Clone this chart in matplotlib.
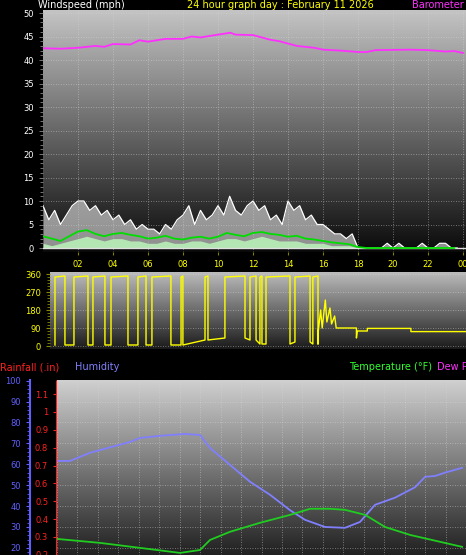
import numpy as np
import matplotlib
matplotlib.use("Agg")
import matplotlib.pyplot as plt
from matplotlib.colors import LinearSegmentedColormap

W, H = 466, 555
# ---------------- data ----------------
gust_t = np.arange(72) / 3.0  # hours (20-min steps)
gust = [9,6,8,5,7,9, 10,10,8,9,7,8, 6,7,5,6,4,5, 4,4,3,5,4,6,
        7,9,5,8,6,7, 9,7,11,8,7,9, 10,8,9,6,7,5, 10,8,9,6,7,5,
        5,4,3,3,2,3, 0,0,0,0,0,1, 0,1,0,0,0,1, 0,0,1,1,0,0]
avg_t = np.arange(48) / 2.0
avg = [2.5,2,1.5,2.5,3.5,3.8,3,2.5, 3,3.2,2.8,2.5,2,2.2,2.6,2,
       1.8,2.2,2.4,2,2.4,3.2,2.8,2.5, 3.2,3.4,3,2.8,2.4,2.6,2,1.8,
       1.5,1.2,1,0.8,0.2,0,0,0, 0,0,0,0,0,0,0,0]
lull = [1,0.5,1,1.5,2,2.5,2,1.5, 2,2,1.5,1.5,1,1,1.5,1,
        1,1.5,1.5,1,1.5,2,2,1.5, 2,2.5,2,1.5,1.5,1.5,1,1,
        1,0.5,0.5,0.5,0,0,0,0, 0,0,0,0,0,0,0,0]
baro_t = [0,1,2,3,3.5,4,5,5.5,6,7,8,8.5,9,10,10.7,11,12,13,13.5,14.5,15.5,16,17,18,18.5,19,21,22,23,23.5,24]
baro = [42.5,42.4,42.6,43,42.8,43.4,43.3,44.2,43.9,44.5,44.5,45,44.8,45.4,45.8,45.4,45.3,44.3,44,43,42.6,42.2,42,41.7,41.7,42.1,42.2,42.1,41.8,41.9,41.5]

dir_high = [(0.13,0.77),(1.35,2.25),(2.57,3.34),(3.73,4.82),(5.46,5.98),(6.36,7.58),
            (8.23,8.35),(9.77,9.96),(11.05,12.34),(12.66,13.05),(13.3,13.43),
            (13.69,15.23),(15.55,16.52),(16.7,17.03)]
dir_low = [5,5,5,5,5,5,5,30,40,30,10,10,20,10,30]
dir_tail_t = [17.03,17.2,17.3,17.5,17.6,17.8,17.9,18.1,18.2,19.5,19.5,19.55,19.55,20.2,20.2,23.0,23.0,26.5]
dir_tail_v = [60,180,90,230,120,190,110,150,90,90,40,75,75,75,88,88,72,72]

hum_t = [0,0.76,1.94,4.29,4.88,6.04,7.51,8.39,8.98,10.15,11.33,12.5,13.68,14.56,15.73,16.9,17.78,18.66,19.83,21.01,21.6,22.19,22.77,23.77]
hum = [61.6,61.6,65.5,70.7,72.6,73.6,74.5,74,67.8,59.7,51.6,45.4,38,33.4,30,29.6,32.4,40.6,44,49,54,54.4,56,58.3]
temp_t = [0,2.52,4.88,7.22,8.39,8.98,10.15,11.91,13.68,14.85,16.02,16.9,18.08,19.25,20.72,22.48,23.77]
temp = [24.3,22.4,20,17.6,19,23.8,27.7,32,35.8,38.7,38.7,38.2,35.8,30,26.2,22.9,20.5]

hour_labels = ["02","04","06","08","10","12","14","16","18","20","22","00"]

# ---------------- figure ----------------
fig = plt.figure(figsize=(W/100, H/100), dpi=100, facecolor="black")

def rect(l, t, r, b):
    return [l/W, 1-b/H, (r-l)/W, (b-t)/H]

def grad(ax, top, bot):
    cm = LinearSegmentedColormap.from_list("g", [bot, top])
    g = np.linspace(0, 1, 256).reshape(-1, 1)
    ax.imshow(g, aspect="auto", extent=[0,1,0,1], transform=ax.transAxes,
              cmap=cm, origin="lower", zorder=0)

def style(ax):
    ax.set_facecolor("black")
    for s in ax.spines.values():
        s.set_visible(False)
    ax.grid(True, color="#d8d8d8", linestyle=(0,(1,2)), linewidth=0.6, alpha=0.6)
    ax.set_axisbelow(False)

fs = 7
# --- top panel ---
ax1 = fig.add_axes(rect(43, 10, 466, 252))
style(ax1)
grad(ax1, "#c4c4c4", "#0a0a0a")
ax1.set_xlim(0, 24.17); ax1.set_ylim(-0.85, 50.64)
ax1.set_yticks(range(0, 51, 5))
ax1.set_yticks(np.arange(0, 50, 1), minor=True)
ax1.tick_params(axis="y", colors="#888888", labelcolor="white", labelsize=6, length=3, width=0.6)
ax1.tick_params(axis="y", which="minor", length=2, color="#888888")
ax1.set_xticks(range(2, 25, 2), hour_labels)
ax1.tick_params(axis="x", colors="#808000", labelcolor="yellow", labelsize=6, length=2)
ax1.fill_between(gust_t, 0, gust, color="#e8e8e8", alpha=0.6, lw=0, zorder=2)
ax1.plot(gust_t, gust, color="white", lw=0.9, zorder=2)
ax1.fill_between(avg_t, 0, lull, color="#b8f0b8", alpha=0.9, lw=0, zorder=3)
ax1.plot(avg_t, avg, color="#00dd00", lw=1.3, zorder=4)
ax1.axhline(0, color="#e0e0e0", lw=1, zorder=3)
ax1.plot(baro_t, baro, color="#ff30ff", lw=1.3, zorder=4)
fig.text(38/W, 1-8/H, "Windspeed (mph)", color="white", fontsize=fs, va="baseline")
fig.text(280/W, 1-8/H, "24 hour graph day : February 11 2026", color="yellow", fontsize=fs, ha="center", va="baseline")
fig.text(464/W, 1-8/H, "Barometer", color="#ff30ff", fontsize=fs, ha="right", va="baseline")

# --- direction panel ---
ax2 = fig.add_axes(rect(50, 272, 466, 349))
style(ax2)
grad(ax2, "#bcbcbc", "#1a1a1a")
ax2.set_xlim(-0.19, 26.54); ax2.set_ylim(-15, 370)
ax2.set_yticks([0, 90, 180, 270, 360])
ax2.set_yticks(np.arange(0, 360, 15), minor=True)
ax2.set_xticks([])
ax2.tick_params(axis="y", colors="#888800", labelcolor="yellow", labelsize=6, length=3)
ax2.tick_params(axis="y", which="minor", length=2, color="#888800")
dt, dv = [], []
for (a, b), lo in zip(dir_high, dir_low):
    dt += [a, a, b, b]; dv += [lo, 345, 350, lo]
dt += dir_tail_t; dv += dir_tail_v
ax2.plot(dt, dv, color="#ffff00", lw=1.0, zorder=3)

# --- legend row ---
ly = 1 - 370/H
fig.text(0/W, ly, "Rainfall (.in)", color="#ff2020", fontsize=fs)
fig.text(75/W, ly, "Humidity", color="#8080ff", fontsize=fs)
fig.text(349/W, ly, "Temperature (°F)", color="#30ff30", fontsize=fs)
fig.text(437/W, ly, "Dew Point", color="#ff30ff", fontsize=fs)

# --- bottom panel ---
ax3 = fig.add_axes(rect(57, 380, 466, 555))
style(ax3)
grad(ax3, "#d0d0d0", "#202020")
ax3.set_xlim(0, 24); ax3.set_ylim(16.6, 100.3)
ax3.set_xticks(np.arange(0, 24, 1.2)); ax3.tick_params(axis="x", length=0, labelbottom=False)
ax3.set_yticks(range(20, 101, 10))
ax3.set_yticks(range(18, 100, 2), minor=True)
ax3.spines["left"].set_visible(True)
ax3.spines["left"].set_position(("axes", -27/409))
ax3.spines["left"].set_color("#6060ff"); ax3.spines["left"].set_linewidth(1.5)
ax3.tick_params(axis="y", colors="#6060ff", labelcolor="#6060ff", labelsize=6, length=3)
ax3.tick_params(axis="y", which="minor", length=2, color="#6060ff")
ax3.plot(hum_t, hum, color="#8080ff", lw=1.3, zorder=4)
ax3.plot(temp_t, temp, color="#20cc20", lw=1.3, zorder=4)
ax3r = ax3.twinx()
ax3r.set_ylim(0.199, 1.179)
for s in ax3r.spines.values():
    s.set_visible(False)
ax3r.spines["left"].set_visible(True)
ax3r.spines["left"].set_position(("axes", -0.003))
ax3r.spines["left"].set_color("#ff2020"); ax3r.spines["left"].set_linestyle((0,(1,1)))
ax3r.yaxis.tick_left()
ax3r.set_yticks([0.2,0.3,0.4,0.5,0.6,0.7,0.8,0.9,1.0,1.1], ["0.2","0.3","0.4","0.5","0.6","0.7","0.8","0.9","1","1.1"])
ax3r.tick_params(axis="y", colors="#ff2020", labelcolor="#ff2020", labelsize=6, length=2)

fig.savefig("out.png", dpi=100, facecolor="black")
